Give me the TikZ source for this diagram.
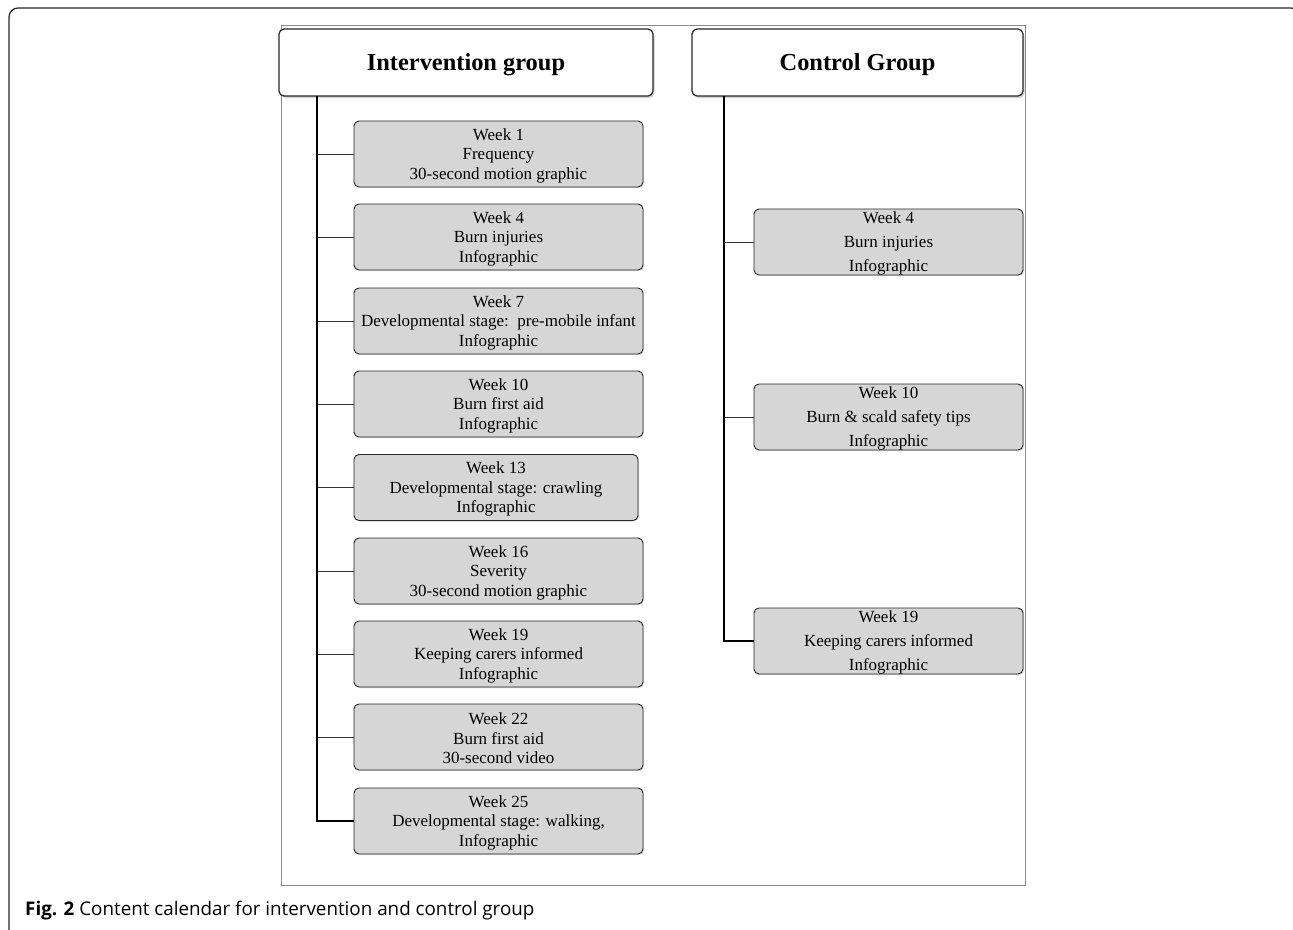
\documentclass[tikz,border=0pt]{standalone}
\usepackage{fontspec}
\setmainfont{Liberation Serif}
\newfontfamily\capfont{Open Sans}
\usetikzlibrary{shadows}
\definecolor{boxgray}{HTML}{D6D6D6}
\definecolor{framegray}{HTML}{8A8A8A}
\tikzset{
  header/.style={draw=black!85, line width=1.2pt, fill=white, rounded corners=5pt,
    minimum height=67pt, font=\fontsize{24.4}{28}\selectfont\bfseries, text height=21pt, text depth=5pt,
    drop shadow={shadow xshift=1.5pt, shadow yshift=-2pt, opacity=0.35, fill=gray}},
  ibox/.style={draw=black!85, line width=0.9pt, fill=boxgray, rounded corners=5pt,
    minimum width=289pt, minimum height=66pt, align=center, inner sep=0pt,
    font=\fontsize{17}{19.5}\selectfont, text height=54pt,
    drop shadow={shadow xshift=1pt, shadow yshift=-1pt, opacity=0.3, fill=gray}},
  cbox/.style={ibox, minimum width=269pt, font=\fontsize{17}{24}\selectfont, text height=62pt},
  trunk/.style={line width=1.8pt, black},
  branch/.style={line width=0.9pt, black!80},
}
\begin{document}
\begin{tikzpicture}[x=1pt,y=-1pt]
\useasboundingbox (0,0) rectangle (1293,929);
\begin{scope}
\clip (0,0) rectangle (1293,929);
\draw[line width=1.2pt, black!85, rounded corners=9pt] (9,8) rectangle (1300,940);
\end{scope}
\draw[line width=0.8pt, framegray] (281,25) rectangle (1025,885);

\node[header, minimum width=374pt] (ih) at (466,62.5) {Intervention group};
\node[header, minimum width=331pt] (ch) at (857.5,62.5) {Control Group};

\node[ibox] (i1) at (498.5,154) {Week 1\\Frequency\\30-second motion graphic};
\node[ibox] (i4) at (498.5,237) {Week 4\\Burn injuries\\Infographic};
\node[ibox] (i7) at (498.5,321) {Week 7\\Developmental stage:\ \ pre-mobile infant\\Infographic};
\node[ibox] (i10) at (498.5,404) {Week 10\\Burn first aid\\Infographic};
\node[ibox, minimum width=284pt] (i13) at (496,487.5) {Week 13\\Developmental stage: crawling\\Infographic};
\node[ibox] (i16) at (498.5,571) {Week 16\\Severity\\30-second motion graphic};
\node[ibox] (i19) at (498.5,654) {Week 19\\Keeping carers informed\\Infographic};
\node[ibox] (i22) at (498.5,737) {Week 22\\Burn first aid\\30-second video};
\node[ibox] (i25) at (498.5,821) {Week 25\\Developmental stage: walking,\\Infographic};

\node[cbox] (c4) at (888.5,242) {Week 4\\Burn injuries\\Infographic};
\node[cbox] (c10) at (888.5,417) {Week 10\\Burn \& scald safety tips\\Infographic};
\node[cbox] (c19) at (888.5,641) {Week 19\\Keeping carers informed\\Infographic};

\coordinate (it) at (317,96);
\coordinate (ct) at (724,96);
\foreach \n in {i1,i4,i7,i10,i13,i16,i19,i22}
  \draw[branch] (it |- \n.west) -- (\n.west);
\draw[trunk] (it) |- (i25.west);
\foreach \n in {c4,c10}
  \draw[branch] (ct |- \n.west) -- (\n.west);
\draw[trunk] (ct) |- (c19.west);

\node[anchor=base west, inner sep=0pt, font=\capfont\fontsize{18.8}{21}\selectfont] (cap) at (25,915)
  {\textbf{Fig. 2} Content calendar for intervention and control group};
\end{tikzpicture}
\end{document}
